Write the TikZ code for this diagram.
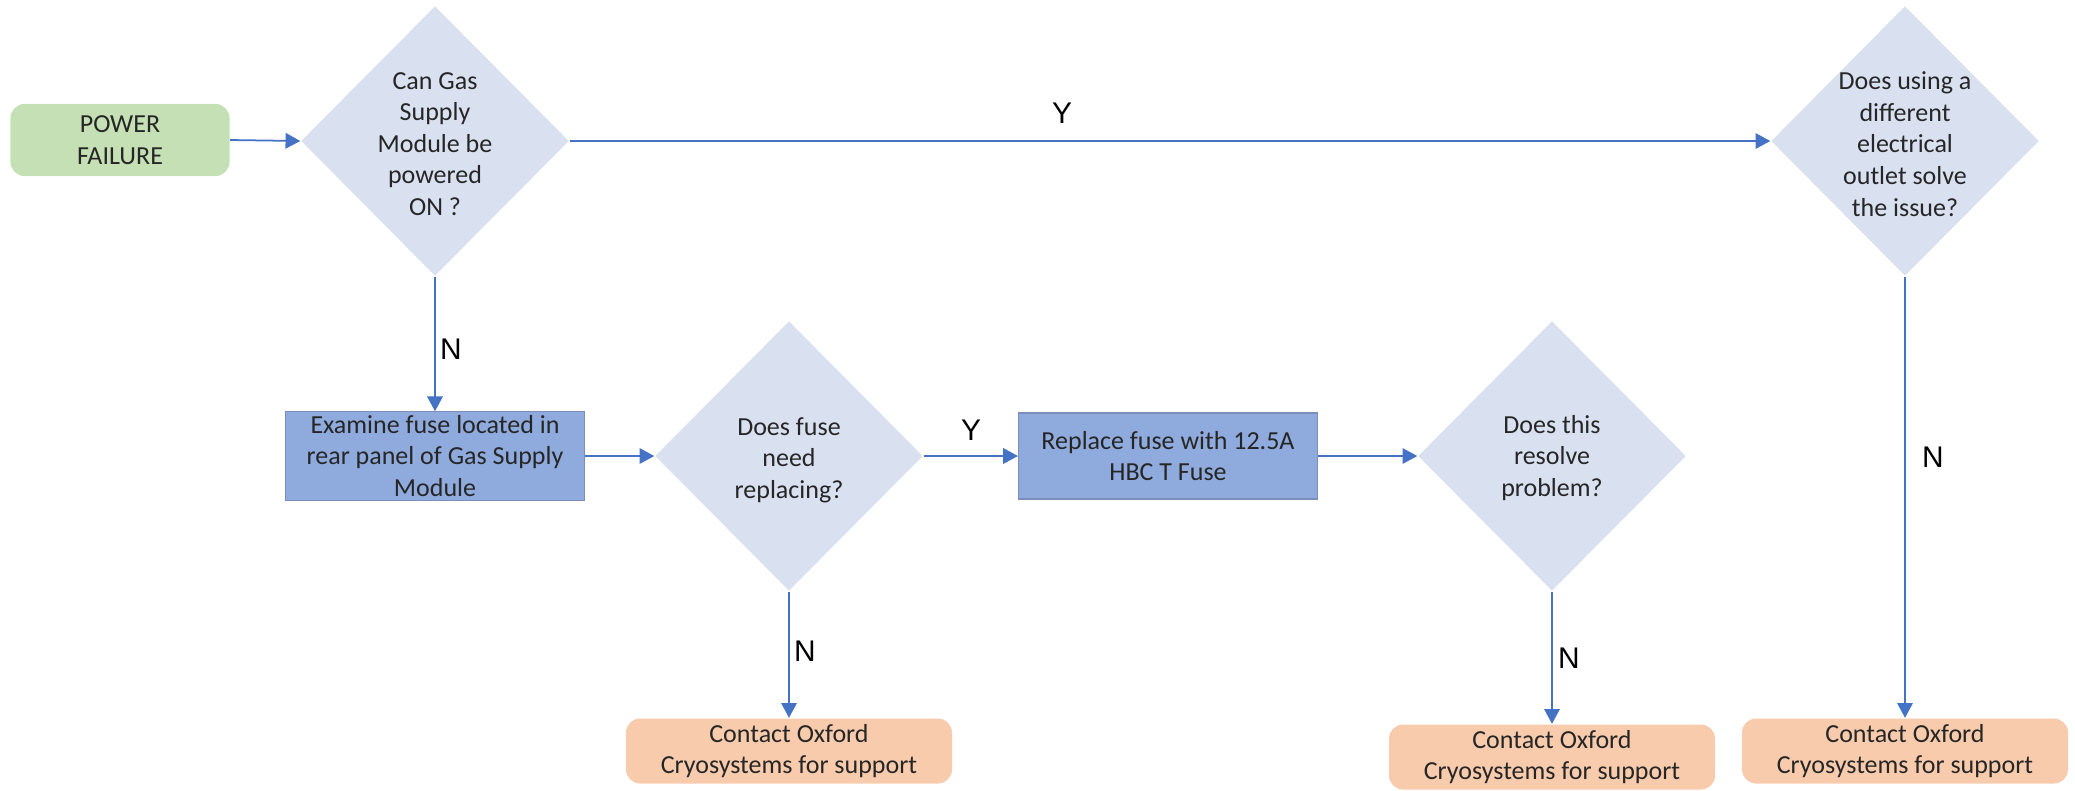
\documentclass[tikz,border=0pt]{standalone}
\usepackage{fontspec}
\setmainfont{Carlito}
\newfontfamily\ynfont{Liberation Sans}
\usetikzlibrary{arrows.meta,shapes.geometric}

\definecolor{startgreen}{HTML}{C5E0B4}
\definecolor{askblue}{HTML}{D9E1F1}
\definecolor{actblue}{HTML}{8FAADC}
\definecolor{helporange}{HTML}{F8CBAD}
\definecolor{flowblue}{HTML}{4472C4}

\tikzset{
  txt/.style={align=center, text=black!85, font=\fontsize{7.4}{9}\selectfont},
  start/.style={txt, rectangle, rounded corners=4pt, fill=startgreen, minimum width=2.19cm, minimum height=0.62cm},
  decision/.style={diamond, fill=askblue, minimum width=2.68cm, minimum height=2.70cm, inner sep=0pt},
  action/.style={txt, rectangle, fill=actblue, draw=actblue!85!black, line width=0.3pt, minimum width=2.99cm, minimum height=0.86cm, inner sep=1pt},
  support/.style={txt, rectangle, rounded corners=4pt, fill=helporange, minimum width=3.26cm, minimum height=0.65cm, inner sep=1pt},
  flow/.style={draw=flowblue, line width=0.5pt, -{Triangle[length=4.2pt,width=4.4pt]}},
  yn/.style={font=\ynfont\fontsize{8.5}{10}\selectfont, text=black}
}

\begin{document}
\begin{tikzpicture}
\useasboundingbox (0,0) rectangle (20.75,-7.90);

\node[start] (pf) at (1.20,-1.40) {POWER\\FAILURE};

\node[decision] (d1) at (4.35,-1.41) {};
\node[txt] (d1t) at (4.35,-1.44) {Can Gas\\Supply\\Module be\\powered\\ON ?};
\node[decision] (d4) at (19.05,-1.41) {};
\node[txt] (d4t) at (19.05,-1.44) {Does using a\\different\\electrical\\outlet solve\\the issue?};

\node[action] (b1) at (4.35,-4.56) {Examine fuse located in\\rear panel of Gas Supply\\Module};
\node[decision] (d2) at (7.89,-4.56) {};
\node[txt] (d2t) at (7.89,-4.60) {Does fuse\\need\\replacing?};
\node[action] (b2) at (11.68,-4.56) {Replace fuse with 12.5A\\HBC T Fuse};
\node[decision] (d3) at (15.52,-4.56) {};
\node[txt] (d3t) at (15.52,-4.58) {Does this\\resolve\\problem?};

\node[support] (c1) at (7.89,-7.51) {Contact Oxford\\Cryosystems for support};
\node[support] (c2) at (15.52,-7.57) {Contact Oxford\\Cryosystems for support};
\node[support] (c3) at (19.05,-7.51) {Contact Oxford\\Cryosystems for support};

\draw[flow] (pf.east) -- (d1.west);
\draw[flow] (d1.east) -- (d4.west);
\draw[flow] (d1.south) -- (b1.north);
\draw[flow] (b1.east) -- (d2.west);
\draw[flow] (d2.east) -- (b2.west);
\draw[flow] (b2.east) -- (d3.west);
\draw[flow] (d2.south) -- (c1.north);
\draw[flow] (d3.south) -- (c2.north);
\draw[flow] (d4.south) -- (c3.north);

\node[yn] (y1) at (10.62,-1.13) {Y};
\node[yn] (y2) at (9.71,-4.30) {Y};
\node[yn] (n1) at (4.51,-3.49) {N};
\node[yn] (n2) at (8.05,-6.51) {N};
\node[yn] (n3) at (15.69,-6.58) {N};
\node[yn] (n4) at (19.33,-4.57) {N};
\end{tikzpicture}
\end{document}
